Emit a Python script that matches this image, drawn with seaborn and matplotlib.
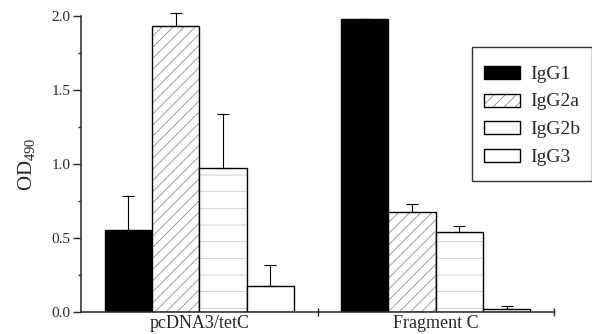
import matplotlib
matplotlib.use("Agg")
import matplotlib.pyplot as plt
import seaborn as sns
import pandas as pd
import numpy as np
from matplotlib.colors import to_rgba
from matplotlib.ticker import MultipleLocator, FixedLocator
from matplotlib.legend_handler import HandlerPatch

groups = ["pcDNA3/tetC", "Fragment C"]
isotypes = ["IgG1", "IgG2a", "IgG2b", "IgG3"]
values = {
    "IgG1": [0.557, 1.977],
    "IgG2a": [1.935, 0.679],
    "IgG2b": [0.974, 0.541],
    "IgG3": [0.178, 0.018],
}
errors = {
    "IgG1": [0.228, 0.003],
    "IgG2a": [0.083, 0.050],
    "IgG2b": [0.365, 0.038],
    "IgG3": [0.142, 0.020],
}
colors = ["black", "white", "white", "white"]
hatches = [None, "///", "-", None]
hatch_colors = [None, "#909090", "#c8c8c8", None]

sns.set_style("ticks")
plt.rcParams["font.family"] = ["Liberation Serif", "DejaVu Serif"]
plt.rcParams["mathtext.fontset"] = "custom"
plt.rcParams["mathtext.rm"] = "Liberation Serif"
plt.rcParams["hatch.linewidth"] = 0.6


def set_hc(patch, c):
    if hasattr(patch, "set_hatchcolor"):
        patch.set_hatchcolor(c)
    else:
        patch._hatch_color = to_rgba(c)


def small_rect(legend, orig_handle, xdescent, ydescent, width, height, fontsize):
    h = 0.67 * fontsize
    return plt.Rectangle((-xdescent, -ydescent + (height - h) / 2), width, h)


rows = []
for iso in isotypes:
    for g, v in zip(groups, values[iso]):
        rows.append({"group": g, "isotype": iso, "value": v})
df = pd.DataFrame(rows)

fig = plt.figure(figsize=(5.92, 3.34), dpi=100)
ax = fig.add_axes([81 / 592, 22 / 334, (554 - 81) / 592, (312 - 16) / 334])

sns.barplot(data=df, x="group", y="value", hue="isotype", order=groups,
            hue_order=isotypes, palette=colors, errorbar=None, width=0.8,
            edgecolor="black", linewidth=1.0, ax=ax, legend=False, saturation=1)

handles = []
for i, (iso, cont) in enumerate(zip(isotypes, ax.containers)):
    xs = []
    for bar in cont:
        bar.set_edgecolor("black")
        if hatches[i]:
            bar.set_hatch(hatches[i])
            set_hc(bar, hatch_colors[i])
        xs.append(bar.get_x() + bar.get_width() / 2)
    hv = np.array([b.get_height() for b in cont])
    ax.errorbar(xs, hv, yerr=[np.zeros(len(hv)), errors[iso]], fmt="none",
                ecolor="black", elinewidth=0.8, capsize=4.5, capthick=0.8,
                clip_on=False, zorder=1)
    h = plt.Rectangle((0, 0), 1, 1, facecolor=colors[i], edgecolor="black",
                      linewidth=1.0, hatch=hatches[i] if i == 1 else None)
    if i == 1:
        set_hc(h, hatch_colors[i])
    handles.append(h)

ax.set_xlim(-0.5, 1.5)
ax.set_ylim(0, 2.0)
ax.yaxis.set_major_locator(MultipleLocator(0.5))
ax.yaxis.set_minor_locator(MultipleLocator(0.25))
ax.set_yticklabels([f"{t:.1f}" for t in ax.get_yticks()])
ax.xaxis.set_minor_locator(FixedLocator([0.5, 1.5]))
ax.tick_params(axis="y", which="major", direction="out", length=5.5, width=1.0,
               labelsize=11, pad=2)
ax.tick_params(axis="y", which="minor", direction="out", length=2.5, width=1.0)
ax.tick_params(axis="x", which="major", length=0, labelsize=13, pad=2)
ax.tick_params(axis="x", which="minor", direction="inout", length=6, width=1.0)
for s in ["left", "bottom"]:
    ax.spines[s].set_linewidth(1.1)
sns.despine(ax=ax)
ax.set_xlabel("")
ax.set_ylabel("OD$_{490}$", fontsize=15, labelpad=10)

leg = ax.legend(handles, isotypes, loc="upper right",
                bbox_to_anchor=(1.0, 1 - 47 / 334), bbox_transform=fig.transFigure,
                borderaxespad=0, fontsize=14, frameon=True, fancybox=False,
                handlelength=1.9, handleheight=1.815, labelspacing=0.0,
                handletextpad=0.5, borderpad=0.6,
                handler_map={plt.Rectangle: HandlerPatch(patch_func=small_rect)})
leg.get_frame().set_edgecolor("black")
leg.get_frame().set_linewidth(1.0)

fig.savefig("out.png", dpi=100)
